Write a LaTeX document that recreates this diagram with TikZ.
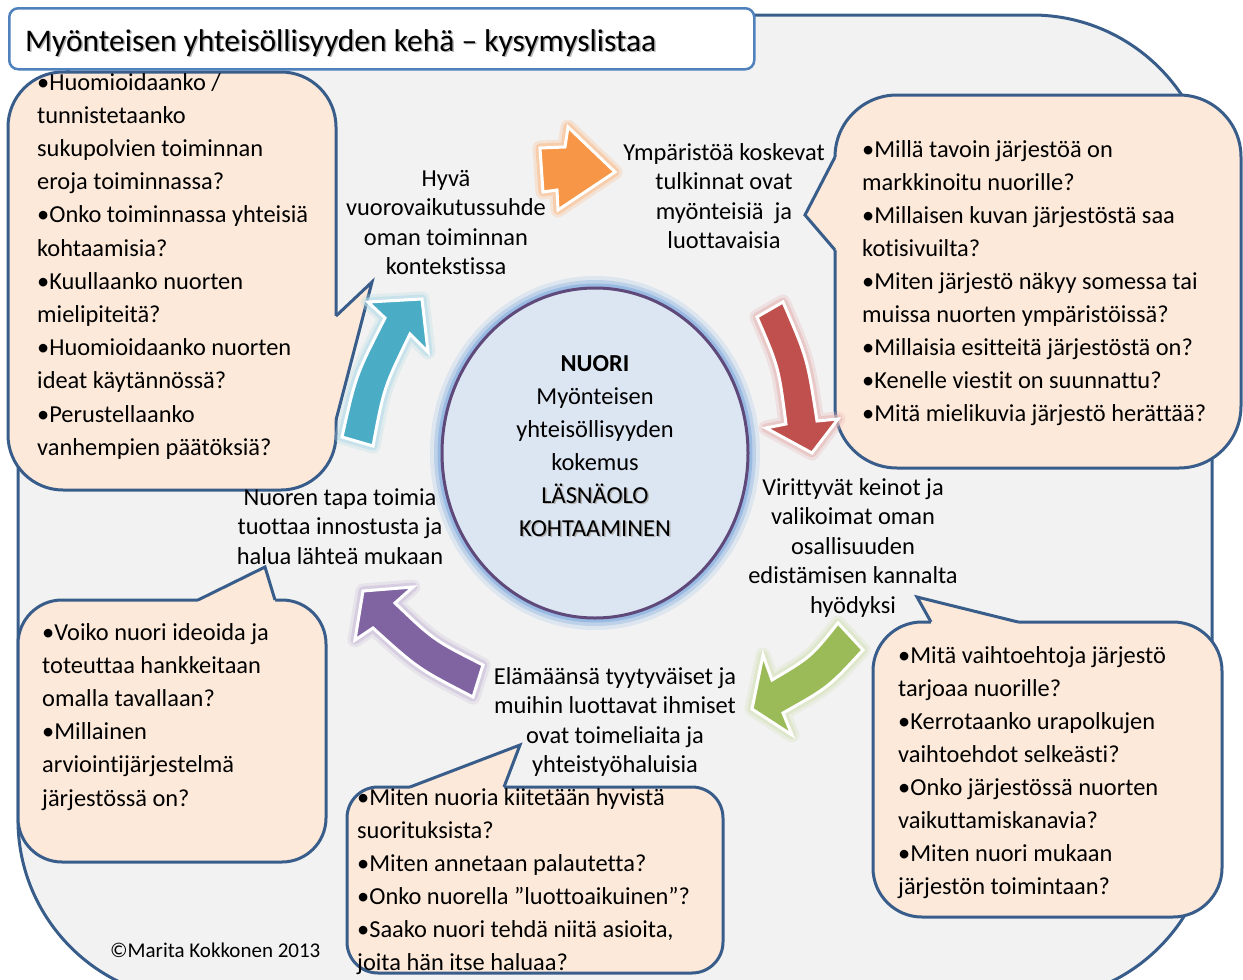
\documentclass[tikz,border=0pt]{standalone}
\usepackage{fontspec}
\setmainfont{Carlito}[Ligatures=NoCommon]
\usetikzlibrary{shapes.geometric}

\definecolor{bgfill}{HTML}{F2F2F2}
\definecolor{frame}{HTML}{385D8A}
\definecolor{peach}{HTML}{FDE9D9}
\definecolor{titleline}{HTML}{4F81BD}
\definecolor{corefill}{HTML}{DCE6F2}
\definecolor{coreline}{HTML}{5F497A}
\definecolor{coreglow}{HTML}{8DB3E2}
\definecolor{aorange}{HTML}{F79646}
\definecolor{gorange}{HTML}{FAC090}
\definecolor{ared}{HTML}{C0504D}
\definecolor{gred}{HTML}{E6B9B8}
\definecolor{agreen}{HTML}{9BBB59}
\definecolor{ggreen}{HTML}{D7E4BD}
\definecolor{apurple}{HTML}{8064A2}
\definecolor{gpurple}{HTML}{CCC1DA}
\definecolor{ateal}{HTML}{4BACC6}
\definecolor{gteal}{HTML}{B7DDE8}

\tikzset{
  body/.style={font=\fontsize{24.4}{29}\selectfont, inner sep=0pt, text=black},
  qline/.style={body, anchor=base west},
  cline/.style={body, anchor=base},
  bubble/.style={fill=peach, draw=frame, line width=3pt},
  tailline/.style={draw=frame, line width=3pt, line join=miter},
}

% rounded callout with a wedge tail:
% x0, y0, x1, y1, radius, tail base 1, tip, tail base 2, inward offset
\newcommand\bubblebox[9]{%
  \draw[bubble, rounded corners=#5pt] (#1,#2) rectangle (#3,#4);
  \fill[peach] #6 ++#9 -- #6 -- #7 -- #8 -- ++#9 -- cycle;
  \draw[tailline] #6 -- #7 -- #8;
}

% block arrow with a soft glow and a white rim
\newcommand\blockarrow[3]{%
  \draw[#2, line width=15pt, line join=round, opacity=0.3] #3;
  \draw[#2, line width=9pt, line join=round, opacity=0.6] #3;
  \draw[fill=#1, draw=white, line width=3pt, line join=miter] #3;
}

% lines of text set on fixed baselines
\newcommand\textlines[6]{%
  \foreach \ln [count=\k from 0] in {#6} {%
    \node[#5, name=#1\k] at (#2,{#3+#4*\k}) {\ln};
  }%
}

\begin{document}
\begin{tikzpicture}[x=1pt,y=-1pt]
\useasboundingbox (0,0) rectangle (1243,980);
\clip (0,0) rectangle (1243,980);

% outer frame
\draw[fill=bgfill, draw=frame, line width=3pt, rounded corners=180pt] (18,15) rectangle (1212,1000);

% question callouts
\bubblebox{8}{72}{336}{490}{55}{(336,316)}{(372,282)}{(336,420)}{(-5,0)}
\bubblebox{835}{95}{1241}{468}{62}{(835,157)}{(805,215)}{(835,250)}{(5,0)}
\bubblebox{18}{600}{326}{862}{44}{(198,600)}{(265,567)}{(275,600)}{(0,5)}
\bubblebox{347}{787}{723}{973}{31}{(410,787)}{(520,745)}{(504,787)}{(0,5)}
\bubblebox{873}{622}{1222}{917}{49}{(931,622)}{(917,597)}{(1018,622)}{(0,5)}

% title
\node[name=title, draw=titleline, fill=white, line width=2.5pt, rounded corners=9pt,
      minimum width=745pt, minimum height=61pt, anchor=north west, inner sep=0pt] at (8,7) {};
\node[name=titleshadow, anchor=base west, inner sep=0pt, text=black!30,
      font=\fontsize{31.5}{37}\selectfont] at (26.5,52.5) {Myönteisen yhteisöllisyyden kehä – kysymyslistaa};
\node[name=titletext, anchor=base west, inner sep=0pt,
      font=\fontsize{31.5}{37}\selectfont] at (25,51) {Myönteisen yhteisöllisyyden kehä – kysymyslistaa};

% central ellipse with its glow
\foreach \w/\o in {24pt/0.2, 16pt/0.4, 9pt/0.75}
  \draw[coreglow, line width=\w, opacity=\o] (595,453) ellipse [x radius=153, y radius=165];
\node[name=core, ellipse, minimum width=306pt, minimum height=330pt, inner sep=0pt,
      fill=corefill, draw=coreline, line width=3pt] at (595,453) {};

% cycle arrows
\blockarrow{aorange}{gorange}{(540,148) -- (565,147) -- (568,127) -- (615,172) -- (558,210) -- (557,190) -- (543,192) -- cycle}
\blockarrow{ared}{gred}{(783,302) -- (757,317) .. controls (778.7,367.1) .. (786,424) -- (766,428) -- (812,453) -- (838,419) -- (817,421) .. controls (807.3,358.2) .. (783,302) -- cycle}
\blockarrow{agreen}{ggreen}{(838,623) -- (863,650) .. controls (828.7,687.2) .. (783,713) -- (792,735) -- (752,709) -- (763,655) -- (772,680) .. controls (810.8,657) .. (838,623) -- cycle}
\blockarrow{apurple}{gpurple}{(363,591) -- (413,587) -- (395,603) .. controls (433.8,640.1) .. (483,665) -- (473,697) .. controls (418,668.7) .. (373,628) -- (355,640) -- cycle}
\blockarrow{ateal}{gteal}{(422,299) -- (368,302) -- (385,318) .. controls (355.9,375) .. (342,437) -- (373,446) .. controls (383.9,387.6) .. (410,334) -- (428,352) -- cycle}

% text in the centre
\node[name=caps1, cline, text=black!30] at (596.5,504.5) {LÄSNÄOLO};
\node[name=caps2, cline, text=black!30] at (596.5,537.5) {KOHTAAMINEN};
\textlines{core}{595}{371}{33}{cline}{{\textbf{NUORI}}, Myönteisen, yhteisöllisyyden, kokemus, LÄSNÄOLO, KOHTAAMINEN}

% statements between the arrows
\textlines{hyva}{446}{186}{29.6}{cline}{Hyvä, vuorovaikutussuhde, oman toiminnan, kontekstissa}
\textlines{ymp}{724}{160}{29.6}{cline}{Ympäristöä koskevat, tulkinnat ovat, {myönteisiä\ \ ja}, luottavaisia}
\textlines{vir}{853}{495}{29.6}{cline}{Virittyvät keinot ja, valikoimat oman, osallisuuden, edistämisen kannalta, hyödyksi}
\textlines{ela}{615}{684}{29.6}{cline}{Elämäänsä tyytyväiset ja, muihin luottavat ihmiset, ovat toimeliaita ja, yhteistyöhaluisia}
\textlines{nuo}{340}{505}{29.6}{cline}{Nuoren tapa toimia, tuottaa innostusta ja, halua lähteä mukaan}

% questions
\textlines{qa}{37}{90}{33.2}{qline}{•Huomioidaanko /, tunnistetaanko, sukupolvien toiminnan, eroja toiminnassa?, •Onko toiminnassa yhteisiä, kohtaamisia?, •Kuullaanko nuorten, mielipiteitä?, •Huomioidaanko nuorten, ideat käytännössä?, •Perustellaanko, vanhempien päätöksiä?}
\textlines{qb}{862}{157}{33}{qline}{•Millä tavoin järjestöä on, markkinoitu nuorille?, •Millaisen kuvan järjestöstä saa, kotisivuilta?, •Miten järjestö näkyy somessa tai, muissa nuorten ympäristöissä?, •Millaisia esitteitä järjestöstä on?, •Kenelle viestit on suunnattu?, •Mitä mielikuvia järjestö herättää?}
\textlines{qc}{42}{640}{33.2}{qline}{•Voiko nuori ideoida ja, toteuttaa hankkeitaan, omalla tavallaan?, •Millainen, arviointijärjestelmä, järjestössä on?}
\textlines{qd}{357}{805}{33}{qline}{•Miten nuoria kiitetään hyvistä, suorituksista?, •Miten annetaan palautetta?, •Onko nuorella ”luottoaikuinen”?, {•Saako nuori tehdä niitä asioita,}, joita hän itse haluaa?}
\textlines{qe}{898}{663}{33}{qline}{•Mitä vaihtoehtoja järjestö, tarjoaa nuorille?, •Kerrotaanko urapolkujen, vaihtoehdot selkeästi?, •Onko järjestössä nuorten, vaikuttamiskanavia?, •Miten nuori mukaan, järjestön toimintaan?}

% copyright
\node[name=copy, anchor=base west, inner sep=0pt, font=\fontsize{21}{25}\selectfont] at (110,957) {©Marita Kokkonen 2013};
\end{tikzpicture}
\end{document}
